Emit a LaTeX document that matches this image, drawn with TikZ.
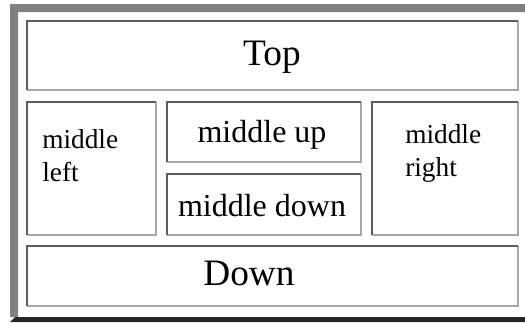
\documentclass[tikz,border=0pt]{standalone}
\usepackage{fontspec}
\setmainfont{Liberation Serif}
\definecolor{framegray}{HTML}{808080}
\definecolor{framedark}{HTML}{262626}
\definecolor{edgedark}{HTML}{5C5C5C}
\definecolor{edgelite}{HTML}{A8A8A8}

\begin{document}
\begin{tikzpicture}[x=0.75pt,y=-0.75pt,
  cell/.style 2 args={rectangle,inner sep=0pt,minimum width=#1*0.75pt,minimum height=#2*0.75pt},
  big/.style={font=\fontsize{28}{33}\selectfont,inner sep=0pt},
  small/.style={font=\fontsize{20.5}{25}\selectfont,align=left,inner sep=0pt},
  mid/.style={font=\fontsize{24}{28}\selectfont,inner sep=0pt}]
  \useasboundingbox (0,0) rectangle (525,322);
  \fill[framegray] (10,4) rectangle (525,12) (10,4) rectangle (18,317);
  \fill[framedark] (10,322) -- (15,317) -- (525,317) -- (525,322) -- cycle;
  \node[cell={491}{69}] (top) at (272.5,55.5) {};
  \node[cell={129}{133}] (ml) at (91.5,168.5) {};
  \node[cell={194}{60}] (mu) at (264,132) {};
  \node[cell={194}{61}] (md) at (264,204.5) {};
  \node[cell={146}{133}] (mr) at (445,168.5) {};
  \node[cell={491}{60}] (down) at (272.5,276) {};
  \foreach \n in {top,ml,mu,md,mr,down}{
    \draw[edgelite,line width=1.5pt] (\n.south west) -| (\n.north east);
    \draw[edgedark,line width=1.5pt] (\n.south west) |- (\n.north east);
  }
  \node[big] (toplabel) at (272,57) {Top};
  \node[big] (downlabel) at (249,273) {Down};
  \node[small,anchor=north west] (mllabel) at (42,129) {middle\\left};
  \node[small,anchor=north west] (mrlabel) at (405,124) {middle\\right};
  \node[mid] (mulabel) at (262,135) {middle up};
  \node[mid] (mdlabel) at (262,206) {middle down};
\end{tikzpicture}
\end{document}
